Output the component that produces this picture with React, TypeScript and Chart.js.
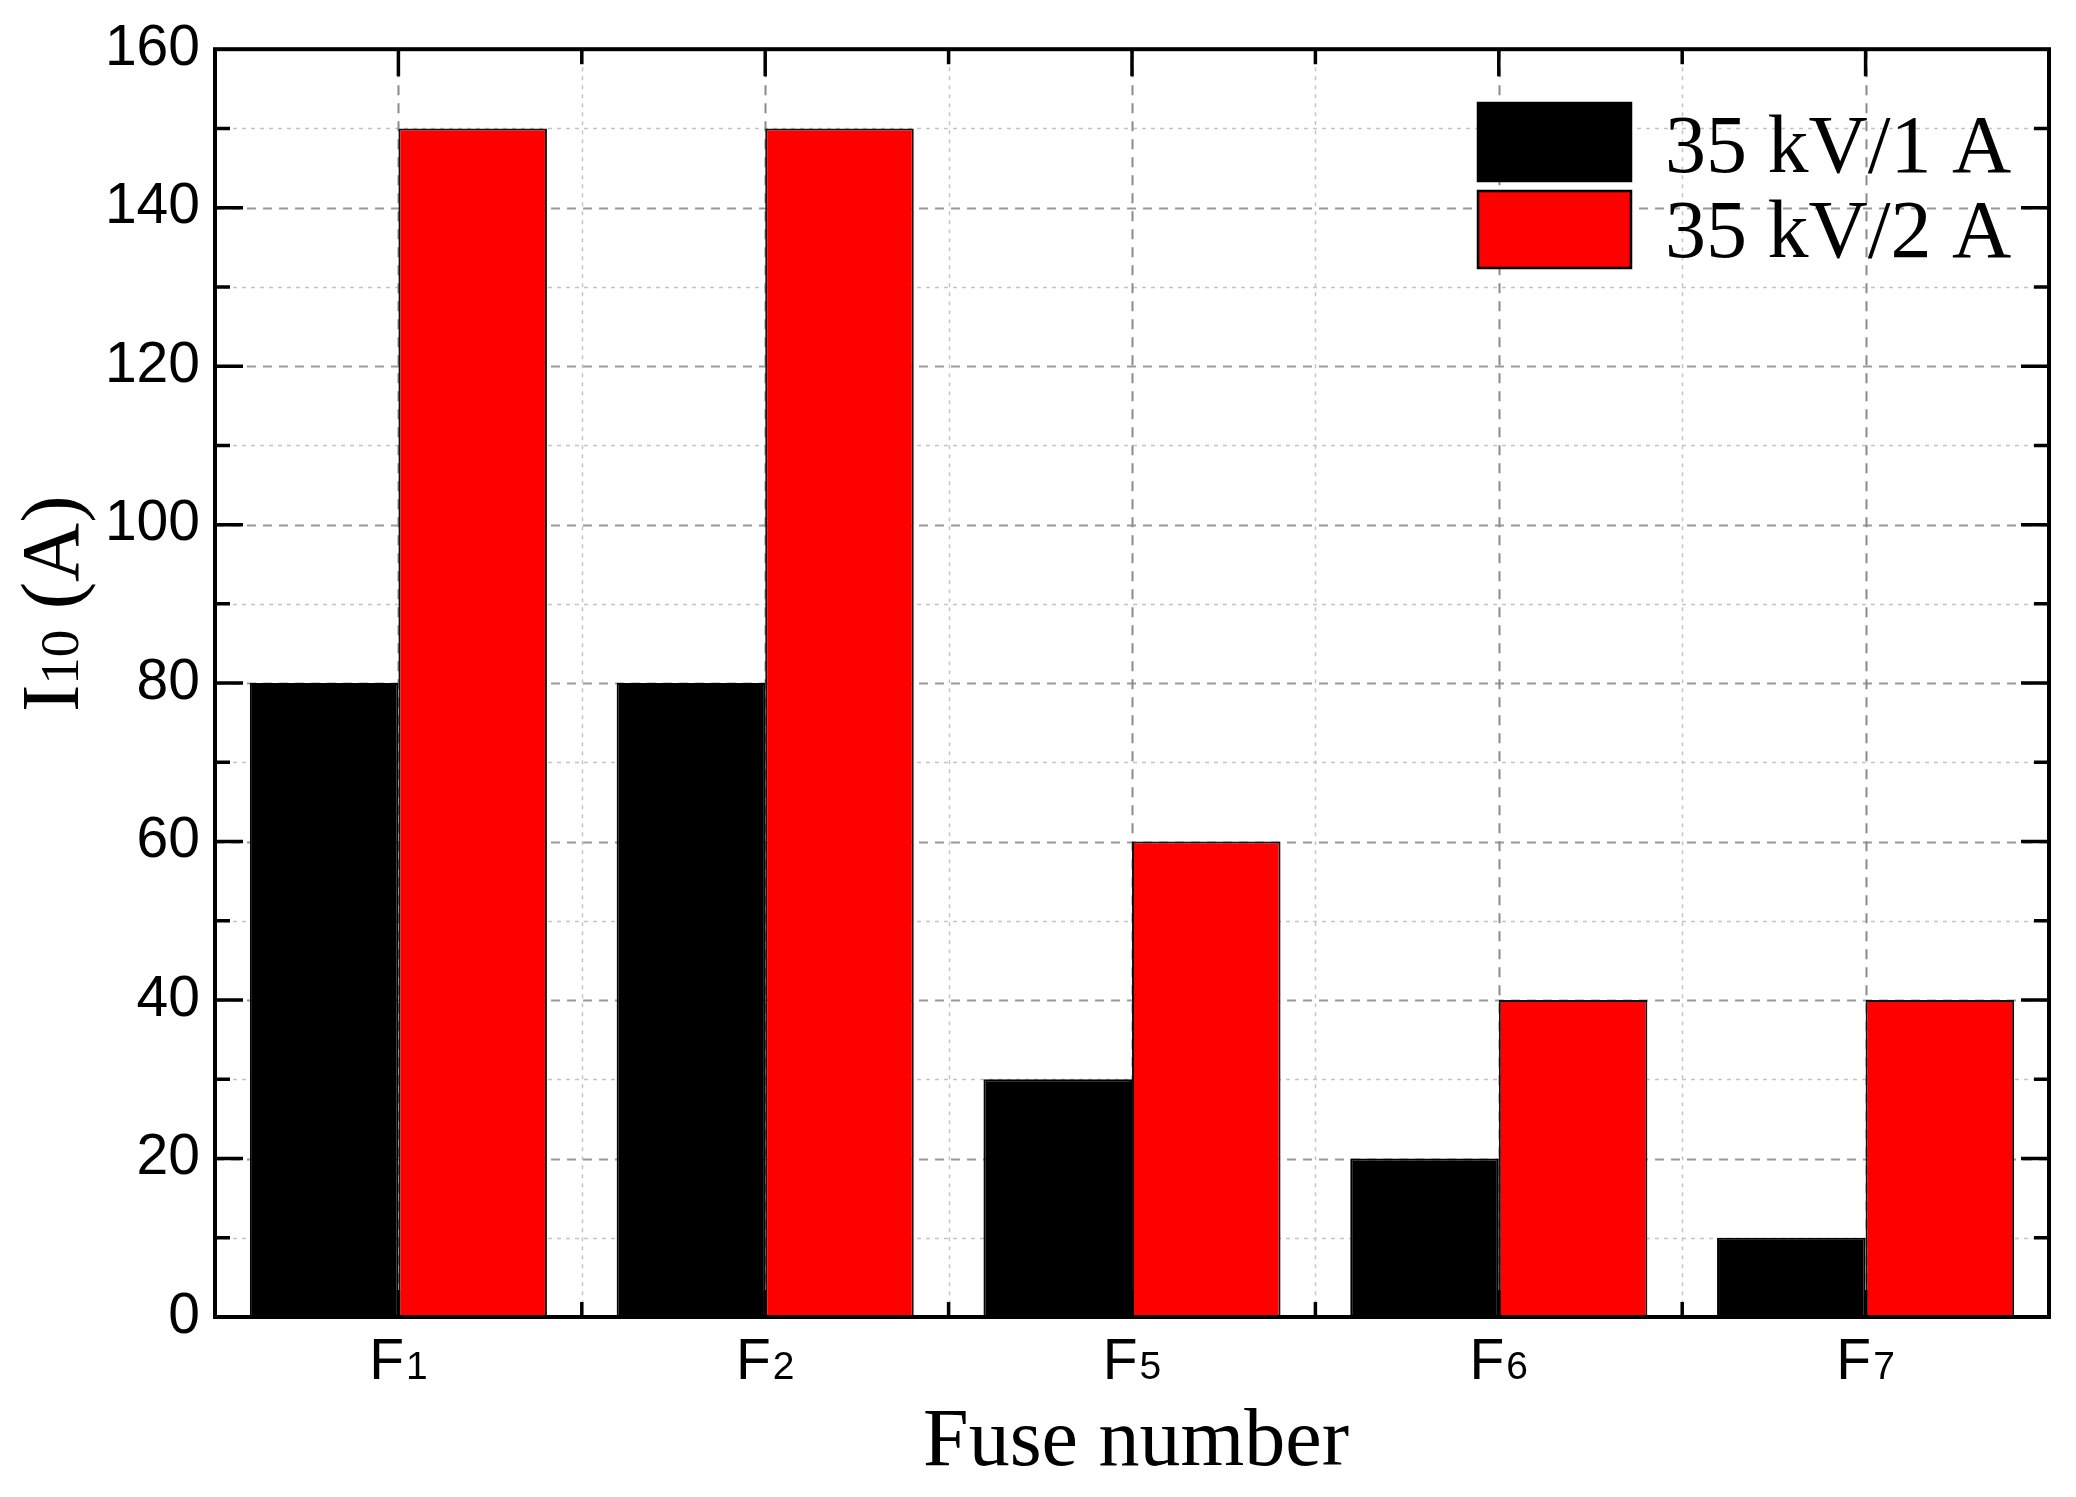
import React, { useEffect, useRef } from "react";
import { Chart, registerables } from "chart.js";

Chart.register(...registerables);

const categories = ["F1", "F2", "F5", "F6", "F7"];
const categoryMain = ["F", "F", "F", "F", "F"];
const categorySub = ["1", "2", "5", "6", "7"];
const series1Label = "35 kV/1 A";
const series2Label = "35 kV/2 A";
const series1Values = [80, 80, 30, 20, 10];
const series2Values = [150, 150, 60, 40, 40];
const yMin = 0;
const yMax = 160;
const yStep = 20;
const yMinorStep = 10;
const xTitle = "Fuse number";
const yTitleMain = "I";
const yTitleSub = "10";
const yTitleRest = " (A)";

const SANS = "'Liberation Sans', Arial, sans-serif";
const SERIF = "'Liberation Serif', 'Times New Roman', serif";

const decorPlugin = {
  id: "decor",
  beforeDatasetsDraw(chart: any) {
    const { ctx, chartArea } = chart;
    const xs = chart.scales.x;
    const ys = chart.scales.y;
    const { left, right, top, bottom } = chartArea;
    ctx.save();
    ctx.beginPath();
    ctx.rect(left, top, right - left, bottom - top);
    ctx.clip();
    for (let v = yMin + yMinorStep; v < yMax; v += yMinorStep) {
      const y = Math.round(ys.getPixelForValue(v)) + 0.5;
      const major = v % yStep === 0;
      ctx.beginPath();
      ctx.setLineDash(major ? [9, 7] : [4, 5]);
      ctx.strokeStyle = major ? "#9a9a9a" : "#c4c4c4";
      ctx.lineWidth = major ? 2 : 1.5;
      ctx.moveTo(left, y);
      ctx.lineTo(right, y);
      ctx.stroke();
    }
    const n = categories.length;
    for (let i = 0; i < n; i++) {
      const x = Math.round(xs.getPixelForValue(i)) + 0.5;
      ctx.beginPath();
      ctx.setLineDash([10, 8]);
      ctx.strokeStyle = "#8a8a8a";
      ctx.lineWidth = 2;
      ctx.moveTo(x, top);
      ctx.lineTo(x, bottom);
      ctx.stroke();
      if (i < n - 1) {
        const xb = Math.round((xs.getPixelForValue(i) + xs.getPixelForValue(i + 1)) / 2) + 0.5;
        ctx.beginPath();
        ctx.setLineDash([4, 5]);
        ctx.strokeStyle = "#c4c4c4";
        ctx.lineWidth = 1.5;
        ctx.moveTo(xb, top);
        ctx.lineTo(xb, bottom);
        ctx.stroke();
      }
    }
    ctx.restore();
  },
  afterDatasetsDraw(chart: any) {
    const { ctx, chartArea } = chart;
    const xs = chart.scales.x;
    const ys = chart.scales.y;
    const { left, right, top, bottom } = chartArea;
    ctx.save();
    ctx.setLineDash([]);
    ctx.strokeStyle = "#000";
    ctx.lineWidth = 3.5;
    for (let v = yMin + yMinorStep; v < yMax; v += yMinorStep) {
      const y = ys.getPixelForValue(v);
      const len = v % yStep === 0 ? 28 : 15;
      ctx.beginPath();
      ctx.moveTo(left, y);
      ctx.lineTo(left + len, y);
      ctx.moveTo(right, y);
      ctx.lineTo(right - len, y);
      ctx.stroke();
    }
    const n = categories.length;
    for (let i = 0; i < n; i++) {
      const x = xs.getPixelForValue(i);
      ctx.beginPath();
      ctx.moveTo(x, top);
      ctx.lineTo(x, top + 27);
      ctx.moveTo(x, bottom);
      ctx.lineTo(x, bottom - 27);
      ctx.stroke();
      if (i < n - 1) {
        const xb = (xs.getPixelForValue(i) + xs.getPixelForValue(i + 1)) / 2;
        ctx.beginPath();
        ctx.moveTo(xb, top);
        ctx.lineTo(xb, top + 15);
        ctx.moveTo(xb, bottom);
        ctx.lineTo(xb, bottom - 15);
        ctx.stroke();
      }
    }
    ctx.lineWidth = 4;
    ctx.strokeRect(left, top, right - left, bottom - top);

    ctx.fillStyle = "#000";
    ctx.textBaseline = "alphabetic";
    ctx.textAlign = "left";
    for (let i = 0; i < n; i++) {
      const x = xs.getPixelForValue(i);
      ctx.font = `57px ${SANS}`;
      const w1 = ctx.measureText(categoryMain[i]).width;
      ctx.font = `39px ${SANS}`;
      const w2 = ctx.measureText(categorySub[i]).width;
      const start = x - (w1 + w2 + 2) / 2;
      ctx.font = `57px ${SANS}`;
      ctx.fillText(categoryMain[i], start, bottom + 62);
      ctx.font = `39px ${SANS}`;
      ctx.fillText(categorySub[i], start + w1 + 2, bottom + 62);
    }

    ctx.font = `82px ${SERIF}`;
    ctx.textAlign = "center";
    ctx.fillText(xTitle, (left + right) / 2 + 4, 1465);

    ctx.save();
    ctx.translate(78, 712);
    ctx.rotate(-Math.PI / 2);
    ctx.textAlign = "left";
    ctx.font = `82px ${SERIF}`;
    ctx.fillText(yTitleMain, 0, 0);
    let off = ctx.measureText(yTitleMain).width;
    ctx.font = `55px ${SERIF}`;
    ctx.fillText(yTitleSub, off, 0);
    off += ctx.measureText(yTitleSub).width;
    ctx.font = `82px ${SERIF}`;
    ctx.fillText(yTitleRest, off, 0);
    ctx.restore();

    const ds = chart.data.datasets;
    const boxX = 1478;
    const boxW = 153;
    const boxYs = [103, 191];
    const boxHs = [78, 77];
    const textBase = [172, 257];
    ctx.font = `82px ${SERIF}`;
    ctx.textAlign = "left";
    for (let k = 0; k < ds.length; k++) {
      ctx.fillStyle = ds[k].backgroundColor;
      ctx.fillRect(boxX, boxYs[k], boxW, boxHs[k]);
      ctx.lineWidth = 2.5;
      ctx.strokeStyle = "#000";
      ctx.strokeRect(boxX, boxYs[k], boxW, boxHs[k]);
      ctx.fillStyle = "#000";
      ctx.fillText(ds[k].label, 1665, textBase[k]);
    }
    ctx.restore();
  },
};

export default function App() {
  const ref = useRef<HTMLCanvasElement | null>(null);
  useEffect(() => {
    if (!ref.current) return;
    const chart = new Chart(ref.current, {
      type: "bar",
      data: {
        labels: categories,
        datasets: [
          {
            label: series1Label,
            data: series1Values,
            backgroundColor: "#000000",
            borderColor: "#000000",
            borderWidth: 2,
            categoryPercentage: 0.81,
            barPercentage: 1.0,
          },
          {
            label: series2Label,
            data: series2Values,
            backgroundColor: "#ff0000",
            borderColor: "#111111",
            borderWidth: 2,
            categoryPercentage: 0.81,
            barPercentage: 1.0,
          },
        ],
      },
      options: {
        animation: false,
        responsive: true,
        maintainAspectRatio: false,
        devicePixelRatio: 1,
        layout: { padding: { left: 0, right: 27, top: 48, bottom: 0 } },
        plugins: {
          legend: { display: false },
          tooltip: { enabled: false },
          title: { display: false },
        },
        scales: {
          x: {
            type: "category",
            ticks: { display: false },
            grid: { display: false, drawTicks: false },
            border: { display: false },
            afterFit: (scale: any) => {
              scale.height = 180;
            },
          },
          y: {
            min: yMin,
            max: yMax,
            ticks: {
              stepSize: yStep,
              color: "#000",
              padding: 15,
              font: { family: SANS, size: 57 },
            },
            grid: { display: false, drawTicks: false },
            border: { display: false },
            afterFit: (scale: any) => {
              scale.width = 215;
            },
          },
        },
      },
      plugins: [decorPlugin],
    });
    return () => chart.destroy();
  }, []);
  return (
    <div style={{ position: "absolute", left: 0, top: 0, width: 2076, height: 1497, background: "#fff" }}>
      <canvas ref={ref} />
    </div>
  );
}
